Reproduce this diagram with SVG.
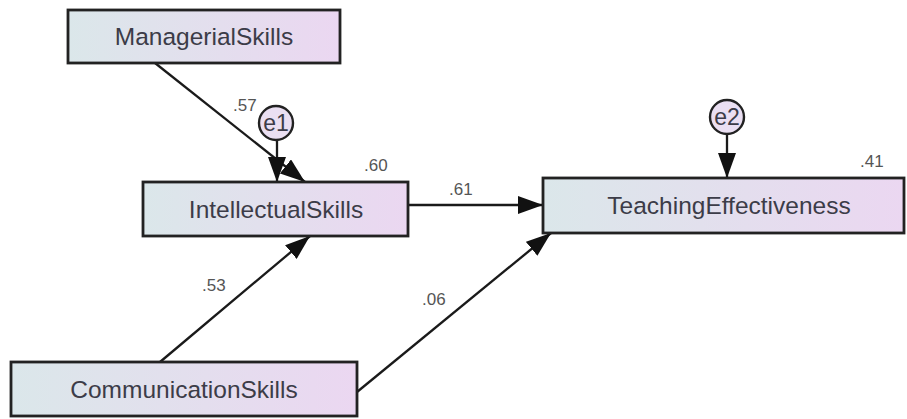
<svg xmlns="http://www.w3.org/2000/svg" width="907" height="419" viewBox="0 0 907 419">
<style>
.box{stroke:#222;stroke-width:2.8;fill:url(#g)}
.circ{stroke:#222;stroke-width:2.4;fill:#eadff2}
.lbl{font-family:"Liberation Sans",Arial,sans-serif;font-size:24.5px;fill:#3c3c48;text-anchor:middle}
.elbl{font-family:"Liberation Sans",Arial,sans-serif;font-size:23px;fill:#3c3c48;text-anchor:middle}
.num{font-family:"Liberation Sans",Arial,sans-serif;font-size:17px;fill:#555}
.edge{stroke:#1a1a1a;stroke-width:2.3;fill:none;marker-end:url(#ah)}
</style>
<defs>
<linearGradient id="g" x1="0" y1="0" x2="1" y2="0">
<stop offset="0" stop-color="#dbe7ea"/>
<stop offset="1" stop-color="#ebd7f1"/>
</linearGradient>
<marker id="ah" markerUnits="userSpaceOnUse" markerWidth="26" markerHeight="18" refX="25" refY="9" orient="auto" viewBox="0 0 26 18">
<path d="M0,0 L25,9 L0,18 z" fill="#111"/>
</marker>
</defs>
<rect width="907" height="419" fill="#fff"/>
<g id="connectors">
<line class="edge" x1="155" y1="63" x2="305" y2="182"/>
<line class="edge" x1="277" y1="140" x2="277" y2="182"/>
<line class="edge" x1="408" y1="205" x2="543" y2="205"/>
<line class="edge" x1="727" y1="134" x2="727" y2="178"/>
<line class="edge" x1="160" y1="362" x2="310" y2="236"/>
<line class="edge" x1="357" y1="392" x2="551" y2="233"/>
<text class="num" x="233" y="111">.57</text>
<text class="num" x="364" y="171">.60</text>
<text class="num" x="449" y="195">.61</text>
<text class="num" x="860" y="167">.41</text>
<text class="num" x="202" y="291">.53</text>
<text class="num" x="422" y="305">.06</text>
</g>
<g id="ManagerialSkills">
<rect class="box" x="68" y="10" width="272" height="53"/>
<text class="lbl" x="204" y="45">ManagerialSkills</text>
</g>
<g id="e1">
<circle class="circ" cx="276" cy="123" r="17"/>
<text class="elbl" x="276" y="131">e1</text>
</g>
<g id="IntellectualSkills">
<rect class="box" x="143" y="182" width="265" height="54"/>
<text class="lbl" x="276" y="218">IntellectualSkills</text>
</g>
<g id="e2">
<circle class="circ" cx="727" cy="117" r="17"/>
<text class="elbl" x="727" y="125">e2</text>
</g>
<g id="TeachingEffectiveness">
<rect class="box" x="543" y="178" width="361" height="55"/>
<text class="lbl" x="729" y="214">TeachingEffectiveness</text>
</g>
<g id="CommunicationSkills">
<rect class="box" x="11" y="362" width="346" height="54"/>
<text class="lbl" x="184" y="398">CommunicationSkills</text>
</g>
</svg>
